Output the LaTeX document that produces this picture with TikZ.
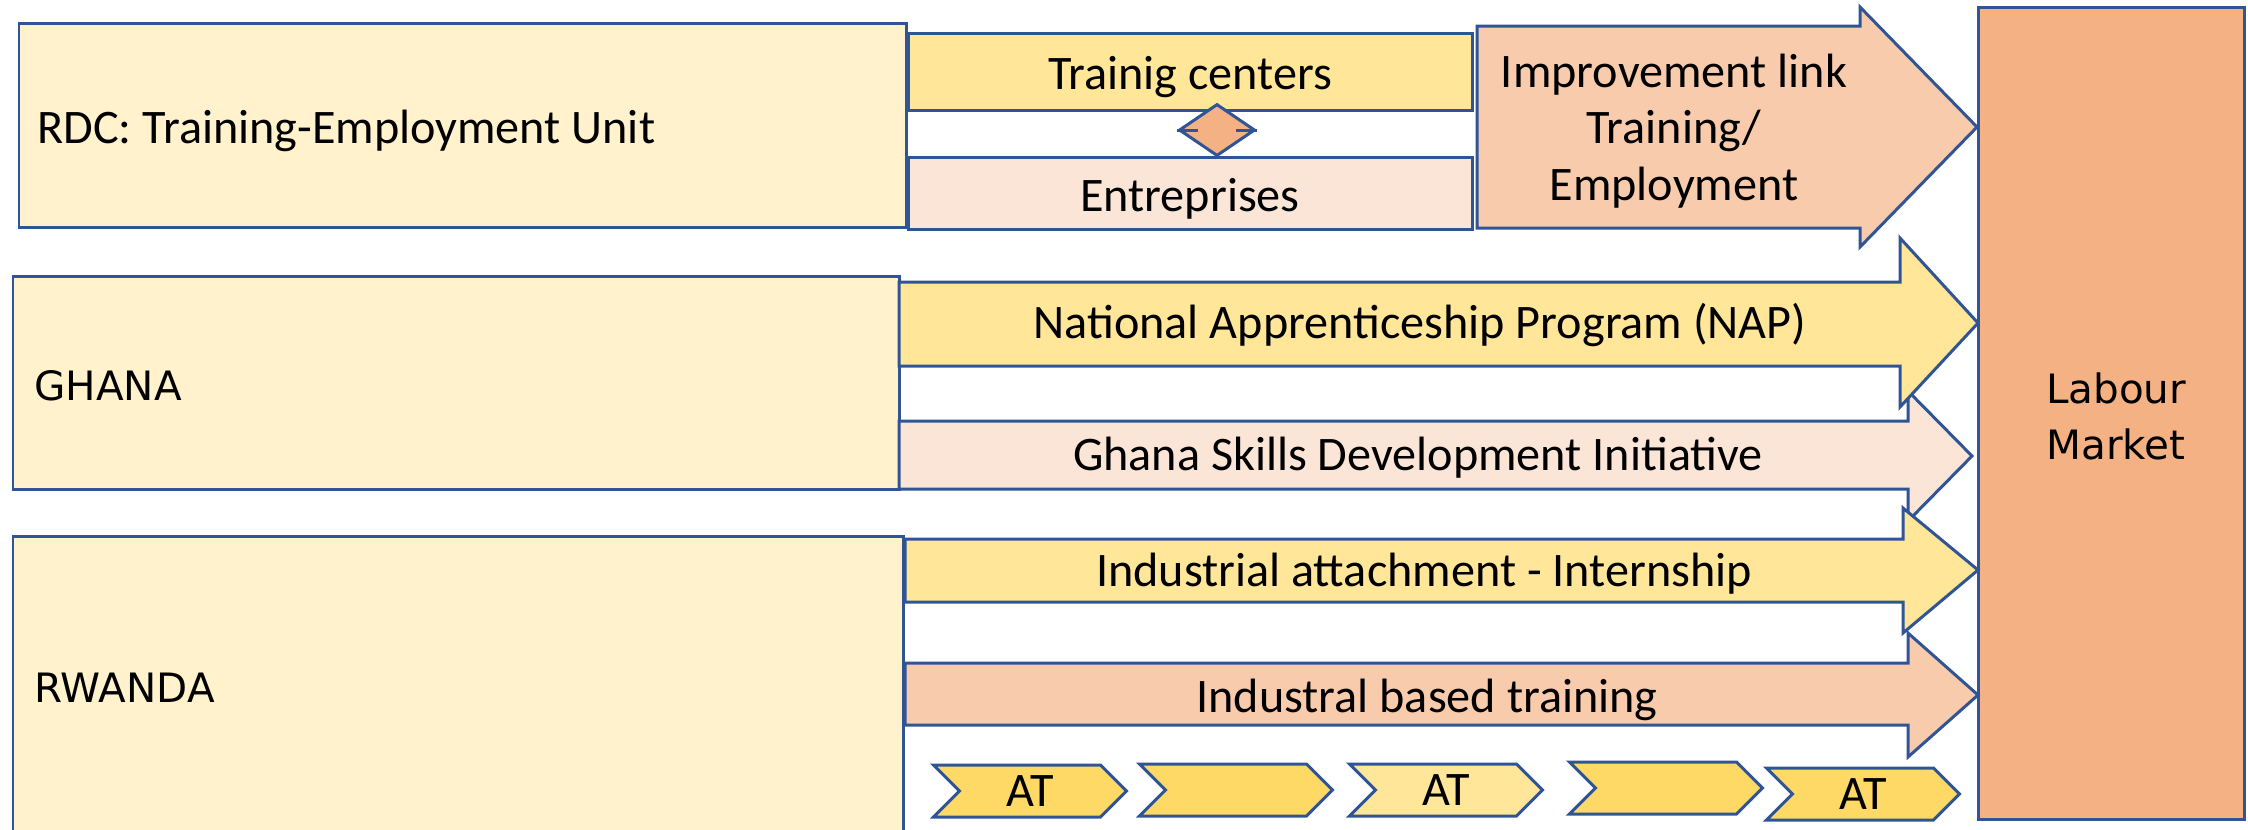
\documentclass[tikz,border=0pt]{standalone}
\usepackage{fontspec}
\setmainfont{Carlito}
\newfontfamily\widefont{DejaVu Sans}
\usetikzlibrary{shapes.geometric,shapes.symbols}

\definecolor{edgeblue}{HTML}{2F5597}
\definecolor{creamfill}{HTML}{FFF2CC}
\definecolor{goldfill}{HTML}{FFE699}
\definecolor{deepgold}{HTML}{FFD966}
\definecolor{blushfill}{HTML}{FBE5D6}
\definecolor{peachfill}{HTML}{F8CBAD}
\definecolor{salmonfill}{HTML}{F4B183}

\tikzset{
  outline/.style={draw=edgeblue, line width=0.85pt, line join=miter},
  unit/.style={outline, fill=creamfill},
  body/.style={font=\fontsize{13.7}{16}\selectfont},
  widetext/.style={font=\widefont\fontsize{11.5}{15.9}\selectfont},
  chevron/.style={outline, shape=signal, signal to=east, signal from=west,
    signal pointer angle=90, minimum width=1.93cm, minimum height=0.52cm,
    inner sep=0pt, font=\fontsize{13.7}{16}\selectfont},
}

\begin{document}
\begin{tikzpicture}[x=0.01cm,y=-0.01cm]
          \useasboundingbox (0,0) rectangle (2248,829);
          % labour market column
          \path[outline, fill=salmonfill] (1978,7) rectangle (2244,819);
          \node[widetext, align=center] (market) at (2116,416) {Labour\\Market};
          % RDC row
          \path[unit] (19,23) rectangle (906,227);
          \node[body, anchor=west] (rdc) at (25,131) {RDC: Training-Employment Unit};
          \path[outline, fill=goldfill] (908,33) rectangle (1472,110);
          \node[body] (centers) at (1190,77) {Trainig centers};
          \path[outline, fill=blushfill] (908,157) rectangle (1472,229);
          \node[body] (firms) at (1190,199) {Entreprises};
          \node[outline, fill=salmonfill, diamond, minimum width=0.76cm, minimum height=0.52cm, inner sep=0pt] (link) at (1217,130) {};
          \draw[outline] (link.west) -- ++(21,0) (link.east) -- ++(-21,0);
          \path[outline, fill=peachfill] (1477,26) -- (1860,26) -- (1860,7) -- (1977,127)
            -- (1860,247) -- (1860,228) -- (1477,228) -- cycle;
          \node[body, align=center] (improve) at (1674,131) {Improvement link\\Training/\\Employment};
          % GHANA row
          \path[unit] (13,276) rectangle (899,489);
          \node[widetext, anchor=west] (ghana) at (22,386) {GHANA};
          \path[outline, fill=blushfill] (899,421) -- (1908,421) -- (1908,391) -- (1972,456)
            -- (1908,521) -- (1908,489) -- (899,489) -- cycle;
          \node[body] (gsdi) at (1418,458) {Ghana Skills Development Initiative};
          \path[outline, fill=goldfill] (899,282) -- (1900,282) -- (1900,238) -- (1978,323)
            -- (1900,407) -- (1900,366) -- (899,366) -- cycle;
          \node[body] (nap) at (1420,325) {National Apprenticeship Program (NAP)};
          % RWANDA row
          \path[unit] (13,536) rectangle (903,840);
          \node[widetext, anchor=west] (rwanda) at (22,688) {RWANDA};
          \path[outline, fill=peachfill] (905,663) -- (1908,663) -- (1908,633) -- (1978,695)
            -- (1908,757) -- (1908,725) -- (905,725) -- cycle;
          \node[body] (ibt) at (1427,700) {Industral based training};
          \path[outline, fill=goldfill] (905,539) -- (1903,539) -- (1903,508) -- (1978,570)
            -- (1903,633) -- (1903,602) -- (905,602) -- cycle;
          \node[body] (attach) at (1424,574) {Industrial attachment - Internship};
          % AT steps
          \node[chevron, fill=deepgold] (at1) at (1030,791) {AT};
          \node[chevron, fill=deepgold] (gap1) at (1236,790) {};
          \node[chevron, fill=goldfill] (at2) at (1446,790) {AT};
          \node[chevron, fill=deepgold] (gap2) at (1666,788) {};
          \node[chevron, fill=deepgold] (at3) at (1863,794) {AT};
\end{tikzpicture}
\end{document}
